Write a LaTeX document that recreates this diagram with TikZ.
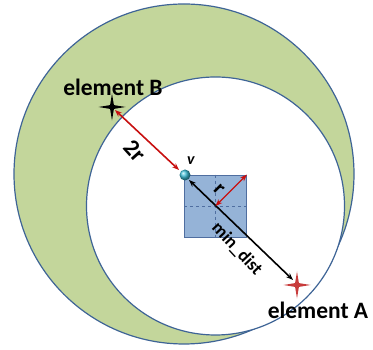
\documentclass[tikz,border=0pt]{standalone}
\usepackage{fontspec}
\setmainfont{Carlito}
\usepackage{xcolor}
\definecolor{ringgreen}{RGB}{195,214,155}
\definecolor{ringblue}{RGB}{62,100,150}
\definecolor{boxblue}{RGB}{149,179,215}
\definecolor{boxedge}{RGB}{79,110,160}
\definecolor{arrowred}{RGB}{200,16,16}
\definecolor{starred}{RGB}{200,60,60}
\definecolor{ballcyan}{RGB}{60,190,215}
\usetikzlibrary{shapes.geometric, arrows.meta, positioning}

\begin{document}
\begin{tikzpicture}[x=1pt, y=1pt,
  ring/.style={draw=ringblue, line width=1.2pt},
  star4/.style={star, star points=4, star point ratio=5, minimum size=27pt, inner sep=0pt},
  label/.style={font=\fontsize{23.5}{23.5}\selectfont\bfseries},
  tag/.style={font=\fontsize{18}{18}\selectfont\bfseries},
  dist/.style={{Stealth[length=7pt]}-{Stealth[length=7pt]}, line width=1.6pt}
]
  \useasboundingbox (0,0) rectangle (373,350);

  % Circles
  \node[ring, circle, fill=ringgreen, minimum size=340pt, inner sep=0pt] (outer) at (184,176) {};
  \node[ring, circle, fill=white, minimum size=258pt, inner sep=0pt] (inner) at (215.5,144) {};

  % Cell
  \node[draw=boxedge, fill=boxblue, line width=0.9pt, minimum size=62pt, inner sep=0pt] (cell) at (215.5,144) {};
  \draw[boxedge, dashed, thin] (cell.north) -- (cell.south);
  \draw[boxedge, dashed, thin] (cell.west) -- (cell.east);

  % Points
  \node[star4, fill=black] (eB) at (112,243) {};
  \node[star4, fill=starred] (eA) at (297,65) {};
  \node[circle, shading=ball, ball color=ballcyan, minimum size=11pt, inner sep=0pt] (v) at (185,175) {};
  \coordinate (eBend) at (115,240);
  \coordinate (vin) at (179,180);
  \coordinate (vout) at (189,170);
  \coordinate (eAend) at (293,70);

  % Distances
  \draw[dist, arrowred] (eBend) -- (vin);
  \draw[dist, black] (vout) -- (eAend);
  \draw[dist, arrowred, line width=1.3pt] (cell.center) -- (cell.north east);

  % Labels
  \node[label] (labB) at (113,263) {element B};
  \node[label] (labA) at (318,40) {element A};
  \node[tag, font=\fontsize{16}{16}\selectfont\bfseries\itshape] (labv) at (191,189) {v};
  \node[label, rotate=-48] (lab2r) at (135,199) {2r};
  \node[tag, font=\fontsize{21}{21}\selectfont\bfseries, rotate=-45] (labr) at (219,161) {r};
  \node[tag, rotate=-47] (labmin) at (237,101) {min\_dist};
\end{tikzpicture}
\end{document}
